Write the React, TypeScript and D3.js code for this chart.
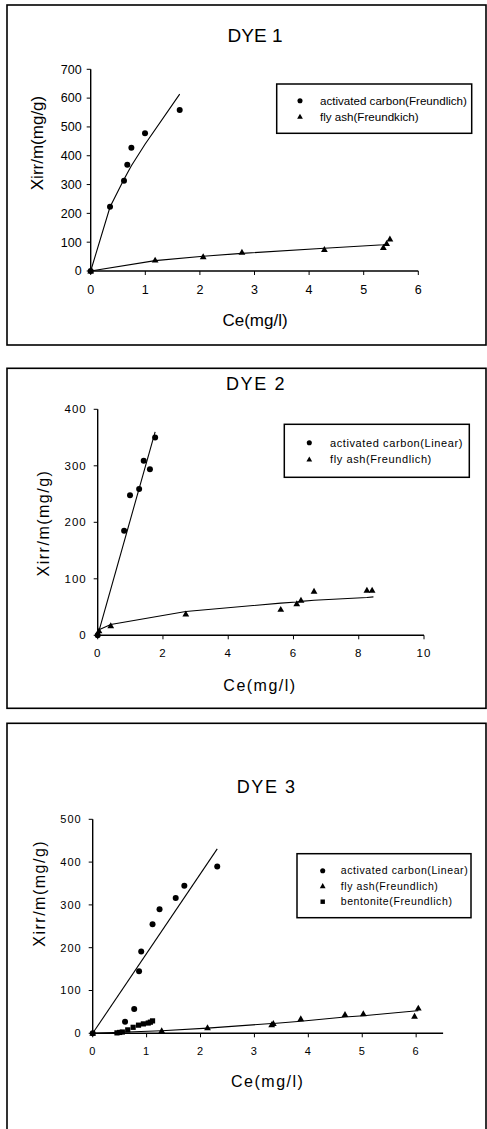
import React from "react";
import * as d3 from "d3";

// ---------- DATA ----------
// DYE 1
const dye1CarbonCe = [0, 0.354, 0.61, 0.67, 0.745, 0.995, 1.63];
const dye1CarbonQ = [0, 223, 313, 369, 428, 478, 559];
const dye1CarbonFitCe = [0, 0.354, 0.61, 0.67, 0.745, 0.995, 1.63];
const dye1CarbonFitQ = [0, 222, 318, 339, 365, 440, 614];
const dye1FlyCe = [0, 1.18, 2.06, 2.77, 4.28, 5.36, 5.42, 5.48];
const dye1FlyQ = [0, 38, 50, 65, 75, 82, 96, 111];
const dye1FlyFitCe = [0, 1.18, 2.06, 2.77, 4.28, 5.36, 5.42];
const dye1FlyFitQ = [0, 36, 51, 61, 79, 91, 93];

// DYE 2
const dye2CarbonCe = [0, 0.81, 0.99, 1.27, 1.41, 1.6, 1.76];
const dye2CarbonQ = [0, 185, 248, 259, 309, 294, 350];
const dye2CarbonFitCe = [0.02, 1.76];
const dye2CarbonFitQ = [4, 360];
const dye2FlyCe = [0.04, 0.4, 2.7, 5.61, 6.1, 6.23, 6.63, 8.25, 8.41];
const dye2FlyQ = [8, 17, 38, 46, 56, 62, 78, 80, 80];
const dye2FlyFitCe = [0.04, 0.4, 2.7, 5.61, 6.1, 6.23, 6.63, 8.25, 8.45];
const dye2FlyFitQ = [10, 19, 42, 57, 59, 60, 62, 67, 68];

// DYE 3
const dye3CarbonCe = [0, 0.6, 0.77, 0.86, 0.9, 1.11, 1.24, 1.54, 1.7, 2.31];
const dye3CarbonQ = [0, 27, 57, 145, 191, 255, 290, 316, 345, 390];
const dye3CarbonFitCe = [0, 2.31];
const dye3CarbonFitQ = [0, 431];
const dye3FlyCe = [0, 1.28, 2.13, 3.32, 3.35, 3.86, 4.68, 5.02, 5.97, 6.04];
const dye3FlyQ = [0, 6, 13, 20, 23, 34, 44, 46, 40, 59];
const dye3FlyFitCe = [0, 1.28, 2.13, 3.32, 3.35, 3.86, 4.68, 5.02, 5.97, 6.04];
const dye3FlyFitQ = [0, 6, 12, 23, 23, 28, 38, 41, 52, 53];
const dye3BentCe = [0.45, 0.5, 0.55, 0.65, 0.75, 0.85, 0.94, 1.03, 1.07, 1.11];
const dye3BentQ = [1, 2, 3, 8, 14, 19, 22, 24, 26, 29];

const dye1XTicks = [0, 1, 2, 3, 4, 5, 6];
const dye1YTicks = [0, 100, 200, 300, 400, 500, 600, 700];
const dye2XTicks = [0, 2, 4, 6, 8, 10];
const dye2YTicks = [0, 100, 200, 300, 400];
const dye3XTicks = [0, 1, 2, 3, 4, 5, 6];
const dye3YTicks = [0, 100, 200, 300, 400, 500];

const titles = ["DYE 1", "DYE 2", "DYE 3"];
const xTitle = "Ce(mg/l)";
const yTitle = "Xirr/m(mg/g)";
const legend1 = ["activated carbon(Freundlich)", "fly ash(Freundkich)"];
const legend2 = ["activated carbon(Linear)", "fly ash(Freundlich)"];
const legend3 = ["activated carbon(Linear)", "fly ash(Freundlich)", "bentonite(Freundlich)"];

const zip = (xs: number[], ys: number[]) => xs.map((x, i) => [x, ys[i]] as [number, number]);

type Series = { pts: [number, number][]; fit?: [number, number][]; shape: "circle" | "tri" | "square" };

function Marker({ shape, x, y, s = 1 }: { shape: string; x: number; y: number; s?: number }) {
  if (shape === "circle") return <circle cx={x} cy={y} r={3 * s} fill="#000" />;
  if (shape === "square") return <rect x={x - 2.6 * s} y={y - 2.6 * s} width={5.2 * s} height={5.2 * s} fill="#000" />;
  const h = 3.4 * s;
  return <path d={`M${x},${y - h}L${x + h},${y + h * 0.75}L${x - h},${y + h * 0.75}Z`} fill="#000" />;
}

type PanelCfg = {
  frame: { x: number; y: number; w: number; h: number };
  xDomain: [number, number];
  xRange: [number, number];
  yDomain: [number, number];
  yRange: [number, number];
  xTicks: number[];
  yTicks: number[];
  title: string;
  titlePos: [number, number];
  xLabPos: [number, number];
  yLabPos: [number, number];
  series: Series[];
  legendBox: [number, number, number, number];
  legendMarkerX: number;
  legendTextX: number;
  legendRows: number[];
  legendLabels: string[];
  spacing: number;
  tickFont: number;
  legendFont: number;
  titleFont: number;
  labelFont: number;
  xTickLabelY: number;
  yTickLabelGap: number;
};

function Panel({ c }: { c: PanelCfg }) {
  const x = d3.scaleLinear().domain(c.xDomain).range(c.xRange);
  const y = d3.scaleLinear().domain(c.yDomain).range(c.yRange);
  const line = d3
    .line<[number, number]>()
    .x((d) => x(d[0]))
    .y((d) => y(d[1]));
  const ff = "'Liberation Sans', Arial, sans-serif";
  const ls = c.spacing;
  return (
    <g fontFamily={ff}>
      <rect x={c.frame.x} y={c.frame.y} width={c.frame.w} height={c.frame.h} fill="none" stroke="#000" strokeWidth={1.6} />
      <text x={c.titlePos[0]} y={c.titlePos[1]} textAnchor="middle" dy="0.35em" fontSize={c.titleFont} letterSpacing={ls * 1.6}>
        {c.title}
      </text>
      {/* axes */}
      <line x1={x(c.xDomain[0])} x2={x(c.xDomain[1])} y1={y(0)} y2={y(0)} stroke="#000" strokeWidth={1.4} />
      <line x1={x(0)} x2={x(0)} y1={y(c.yDomain[0])} y2={y(c.yDomain[1])} stroke="#000" strokeWidth={1.4} />
      {c.xTicks.map((t) => (
        <g key={"xt" + t}>
          <line x1={x(t)} x2={x(t)} y1={y(0)} y2={y(0) + 4} stroke="#000" strokeWidth={1} />
          <text x={x(t)} y={c.xTickLabelY} textAnchor="middle" dy="0.35em" fontSize={c.tickFont} letterSpacing={ls}>
            {t}
          </text>
        </g>
      ))}
      {c.yTicks.map((t) => (
        <g key={"yt" + t}>
          <line x1={x(0) - 4} x2={x(0)} y1={y(t)} y2={y(t)} stroke="#000" strokeWidth={1} />
          <text x={x(0) - c.yTickLabelGap} y={y(t)} textAnchor="end" dy="0.35em" fontSize={c.tickFont} letterSpacing={ls}>
            {t}
          </text>
        </g>
      ))}
      <text x={c.xLabPos[0]} y={c.xLabPos[1]} textAnchor="middle" dy="0.35em" fontSize={c.labelFont} letterSpacing={ls * 1.5}>
        {xTitle}
      </text>
      <text
        transform={`translate(${c.yLabPos[0]},${c.yLabPos[1]}) rotate(-90)`}
        textAnchor="middle"
        dy="0.35em"
        fontSize={c.labelFont}
        letterSpacing={ls * 1.5}
      >
        {yTitle}
      </text>
      {/* fits */}
      {c.series.map((s, i) =>
        s.fit ? <path key={"f" + i} d={line(s.fit) || ""} fill="none" stroke="#000" strokeWidth={1.1} /> : null
      )}
      {/* points */}
      {c.series.map((s, i) => (
        <g key={"p" + i}>
          {s.pts.map((p, j) => (
            <Marker key={j} shape={s.shape} x={x(p[0])} y={y(p[1])} />
          ))}
        </g>
      ))}
      {/* legend */}
      <rect
        x={c.legendBox[0]}
        y={c.legendBox[1]}
        width={c.legendBox[2] - c.legendBox[0]}
        height={c.legendBox[3] - c.legendBox[1]}
        fill="#fff"
        stroke="#000"
        strokeWidth={1.5}
      />
      {c.legendLabels.map((lab, i) => (
        <g key={"l" + i}>
          <Marker shape={c.series[i].shape} x={c.legendMarkerX} y={c.legendRows[i]} s={0.85} />
          <text x={c.legendTextX} y={c.legendRows[i]} dy="0.35em" fontSize={c.legendFont} letterSpacing={ls * 0.6}>
            {lab}
          </text>
        </g>
      ))}
    </g>
  );
}

const panels: PanelCfg[] = [
  {
    frame: { x: 7, y: 5, w: 479, h: 340 },
    xDomain: [0, 6],
    xRange: [90.7, 418.3],
    yDomain: [0, 700],
    yRange: [271, 69.3],
    xTicks: dye1XTicks,
    yTicks: dye1YTicks,
    title: titles[0],
    titlePos: [255, 35],
    xLabPos: [255, 320],
    yLabPos: [37, 143],
    series: [
      { pts: zip(dye1CarbonCe, dye1CarbonQ), fit: zip(dye1CarbonFitCe, dye1CarbonFitQ), shape: "circle" },
      { pts: zip(dye1FlyCe, dye1FlyQ), fit: zip(dye1FlyFitCe, dye1FlyFitQ), shape: "tri" },
    ],
    legendBox: [276.7, 84, 471.7, 133.3],
    legendMarkerX: 300,
    legendTextX: 320,
    legendRows: [100.7, 116.7],
    legendLabels: legend1,
    spacing: 0,
    tickFont: 12.5,
    legendFont: 11.6,
    titleFont: 19,
    labelFont: 17,
    xTickLabelY: 289.3,
    yTickLabelGap: 9,
  },
  {
    frame: { x: 7, y: 368.3, w: 479, h: 340 },
    xDomain: [0, 10],
    xRange: [97.7, 424],
    yDomain: [0, 400],
    yRange: [635.3, 409.3],
    xTicks: dye2XTicks,
    yTicks: dye2YTicks,
    title: titles[1],
    titlePos: [256, 384],
    xLabPos: [260, 685],
    yLabPos: [43.3, 523],
    series: [
      { pts: zip(dye2CarbonCe, dye2CarbonQ), fit: zip(dye2CarbonFitCe, dye2CarbonFitQ), shape: "circle" },
      { pts: zip(dye2FlyCe, dye2FlyQ), fit: zip(dye2FlyFitCe, dye2FlyFitQ), shape: "tri" },
    ],
    legendBox: [284.3, 424.3, 469.3, 477.3],
    legendMarkerX: 309.3,
    legendTextX: 330,
    legendRows: [442.7, 459.3],
    legendLabels: legend2,
    spacing: 1,
    tickFont: 11.5,
    legendFont: 11,
    titleFont: 18,
    labelFont: 16,
    xTickLabelY: 653.3,
    yTickLabelGap: 11,
  },
  {
    frame: { x: 7, y: 723.3, w: 479, h: 440 },
    xDomain: [0, 6.5],
    xRange: [92.7, 443.1],
    yDomain: [0, 500],
    yRange: [1033.3, 819.3],
    xTicks: dye3XTicks,
    yTicks: dye3YTicks,
    title: titles[2],
    titlePos: [266.7, 786.7],
    xLabPos: [267.7, 1081.7],
    yLabPos: [39.3, 893.3],
    series: [
      { pts: zip(dye3CarbonCe, dye3CarbonQ), fit: zip(dye3CarbonFitCe, dye3CarbonFitQ), shape: "circle" },
      { pts: zip(dye3FlyCe, dye3FlyQ), fit: zip(dye3FlyFitCe, dye3FlyFitQ), shape: "tri" },
      { pts: zip(dye3BentCe, dye3BentQ), shape: "square" },
    ],
    legendBox: [297, 853.7, 471, 917.7],
    legendMarkerX: 322.7,
    legendTextX: 340.7,
    legendRows: [870.7, 886, 901.7],
    legendLabels: legend3,
    spacing: 1,
    tickFont: 11,
    legendFont: 10.5,
    titleFont: 18,
    labelFont: 16,
    xTickLabelY: 1051,
    yTickLabelGap: 11,
  },
];

export default function App() {
  return (
    <svg
      width={487}
      height={1129}
      viewBox="0 0 487 1129"
      style={{ position: "absolute", left: 0, top: 0, background: "#fff" }}
    >
      <rect x={0} y={0} width={487} height={1129} fill="#fff" />
      {panels.map((c, i) => (
        <Panel key={i} c={c} />
      ))}
    </svg>
  );
}
